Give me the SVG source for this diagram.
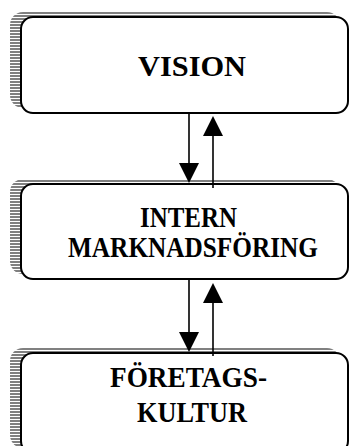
<svg xmlns="http://www.w3.org/2000/svg" width="349" height="446" viewBox="0 0 349 446">
<style>
.shadow{fill:url(#stripes);}
.box{fill:#ffffff;stroke:#000000;stroke-width:2;}
.lbl{font-family:"Liberation Serif","Times New Roman",serif;font-weight:bold;font-size:28.5px;fill:#000000;text-anchor:middle;}
.conn{stroke:#000000;stroke-width:1.6;fill:none;}
</style>
<defs>
<pattern id="stripes" patternUnits="userSpaceOnUse" width="6" height="3">
<rect x="0" y="0" width="6" height="2" fill="#808080"/>
<rect x="0" y="2" width="6" height="1" fill="#ffffff"/>
</pattern>
<marker id="head" viewBox="0 0 20 20" refX="17" refY="10" markerWidth="20" markerHeight="20" markerUnits="userSpaceOnUse" orient="auto">
<path d="M0,0 L20,10 L0,20 Z" fill="#000000"/>
</marker>
</defs>
<g id="node-vision">
<rect class="shadow" x="10" y="12" width="330" height="96" rx="13" ry="13"/>
<rect class="box" x="21" y="17" width="327" height="96" rx="12" ry="12"/>
<text class="lbl" x="192" y="76" textLength="108" lengthAdjust="spacingAndGlyphs">VISION</text>
</g>
<g id="node-intern">
<rect class="shadow" x="10" y="179" width="330" height="95" rx="13" ry="13"/>
<rect class="box" x="21" y="184" width="327" height="95" rx="12" ry="12"/>
<text class="lbl" x="188.5" y="227" textLength="97" lengthAdjust="spacingAndGlyphs">INTERN</text>
<text class="lbl" x="193" y="257" textLength="250" lengthAdjust="spacingAndGlyphs">MARKNADSFÖRING</text>
</g>
<g id="node-kultur">
<rect class="shadow" x="10" y="348" width="330" height="100" rx="13" ry="13"/>
<rect class="box" x="21" y="353" width="327" height="100" rx="12" ry="12"/>
<text class="lbl" x="188.5" y="387" textLength="157" lengthAdjust="spacingAndGlyphs">FÖRETAGS-</text>
<text class="lbl" x="192" y="422" textLength="110" lengthAdjust="spacingAndGlyphs">KULTUR</text>
</g>
<g id="connectors">
<line class="conn" x1="189" y1="113" x2="189" y2="180" marker-end="url(#head)"/>
<line class="conn" x1="213" y1="188" x2="213" y2="119" marker-end="url(#head)"/>
<line class="conn" x1="189" y1="279" x2="189" y2="349" marker-end="url(#head)"/>
<line class="conn" x1="213" y1="356" x2="213" y2="286" marker-end="url(#head)"/>
</g>
</svg>
